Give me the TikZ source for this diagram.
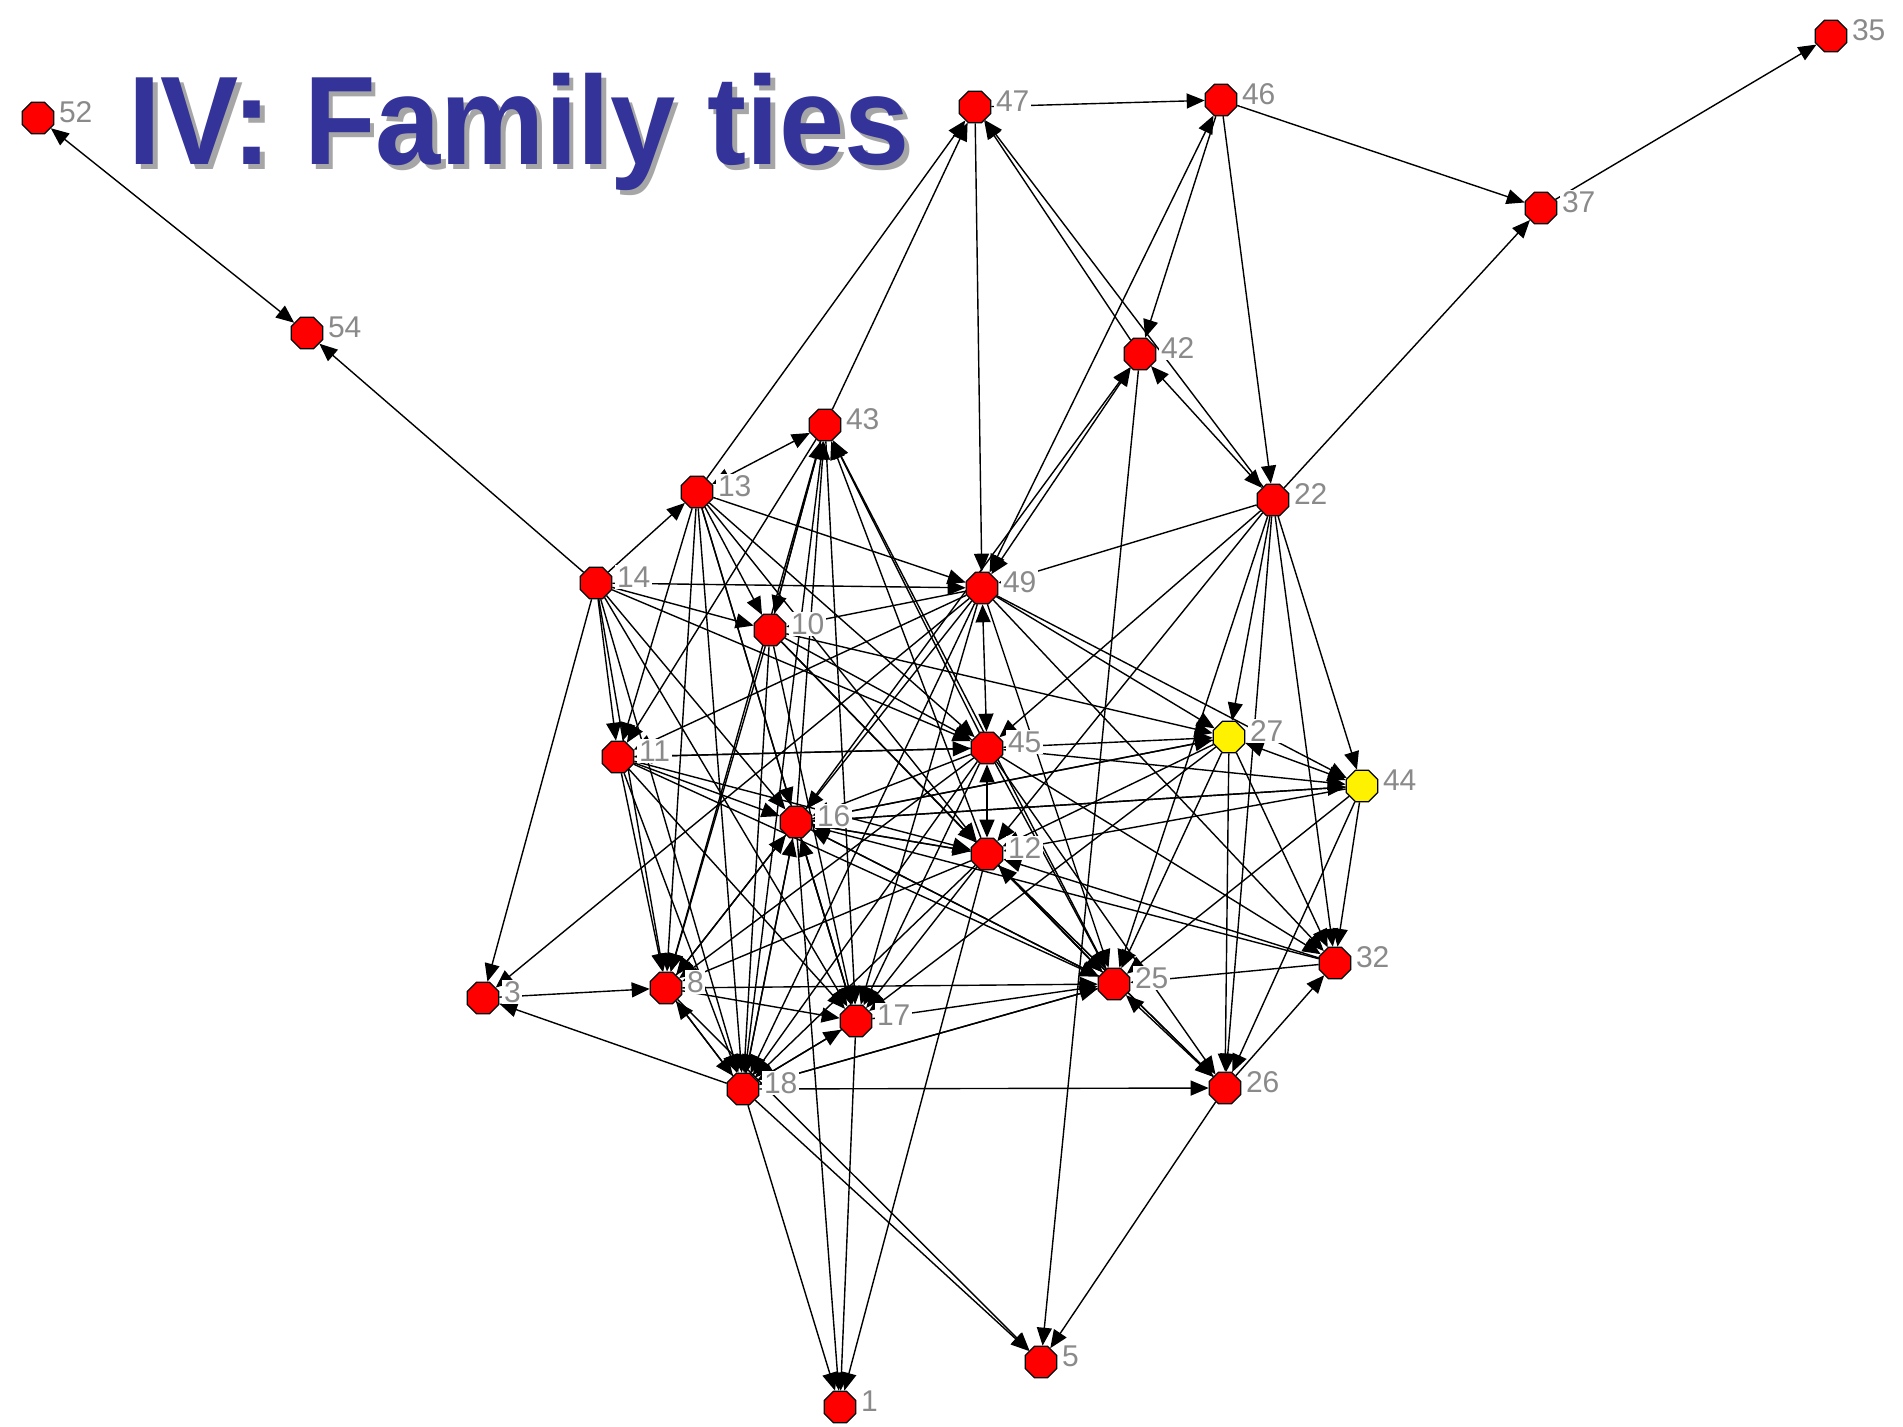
\documentclass[tikz,border=0pt]{standalone}
\usepackage{fontspec}
\setmainfont{Liberation Sans}
\usetikzlibrary{shapes.geometric,arrows.meta}
\definecolor{titleblue}{RGB}{51,51,153}
\definecolor{labelgray}{RGB}{138,138,138}
\pgfdeclarelayer{canvas}
\pgfdeclarelayer{ties}
\pgfsetlayers{canvas,ties,main}

% one actor: octagon plus its number label
\newcommand\actor[4]{%
  \node[#4] (n#1) at (#2,#3) {};
  \node[lab] (l#1) at ({#2+19},{#3-6}) {#1};
}
% heading text with a soft drop shadow set in the same box
\newcommand\shadowed[1]{%
  \makebox[0pt][l]{\hspace{2.5pt}\raisebox{-2.5pt}{\color{black!35}#1}}%
  {\color{titleblue}#1}}

\begin{document}
\begin{tikzpicture}[x=0.5pt,y=-0.5pt,
  actorbox/.style={regular polygon, regular polygon sides=8, minimum size=17pt,
    inner sep=0pt, draw=black, line width=0.6pt, fill=red},
  kinbox/.style={actorbox, fill=yellow},
  lab/.style={font=\fontsize{15pt}{15pt}\selectfont, text=labelgray, fill=white,
    inner sep=0.8pt, anchor=west},
  tie/.style={draw=black, line width=0.7pt, -{Triangle[length=9pt,width=7.5pt]}},
  mutual/.style={draw=black, line width=0.7pt,
    {Triangle[length=9pt,width=7.5pt]}-{Triangle[length=9pt,width=7.5pt]}},
  titletext/.style={anchor=base west, inner sep=0pt,
    font=\fontsize{63pt}{63pt}\selectfont\bfseries}
]
\begin{pgfonlayer}{canvas}
  \fill[white] (0,0) rectangle (1903,1427);
\end{pgfonlayer}
\useasboundingbox (0,0) rectangle (1903,1427);

% title
\node[titletext] (title) at (128,165) {\scalebox{0.93}[1]{\shadowed{IV: Family ties}}};

% actors
\actor{52}{38}{118}{actorbox}
\actor{54}{307}{333}{actorbox}
\actor{47}{975}{107}{actorbox}
\actor{46}{1221}{100}{actorbox}
\actor{35}{1831}{36}{actorbox}
\actor{37}{1541}{208}{actorbox}
\actor{42}{1140}{354}{actorbox}
\actor{43}{825}{425}{actorbox}
\actor{13}{697}{492}{actorbox}
\actor{22}{1273}{500}{actorbox}
\actor{14}{596}{583}{actorbox}
\actor{49}{982}{588}{actorbox}
\actor{10}{770}{630}{actorbox}
\actor{45}{987}{748}{actorbox}
\actor{27}{1229}{737}{kinbox}
\actor{44}{1362}{786}{kinbox}
\actor{11}{618}{757}{actorbox}
\actor{16}{796}{822}{actorbox}
\actor{12}{987}{854}{actorbox}
\actor{32}{1335}{963}{actorbox}
\actor{25}{1114}{984}{actorbox}
\actor{3}{483}{998}{actorbox}
\actor{8}{666}{988}{actorbox}
\actor{17}{856}{1021}{actorbox}
\actor{26}{1225}{1088}{actorbox}
\actor{18}{743}{1089}{actorbox}
\actor{5}{1041}{1362}{actorbox}
\actor{1}{840}{1407}{actorbox}

% directed ties
\begin{pgfonlayer}{ties}
\foreach \a/\b in {14/54, 47/46, 46/37, 37/35, 22/37, 46/42, 46/22, 13/47, 43/47,
  42/47, 22/47, 47/49, 16/42, 42/5, 22/49, 22/27, 22/44, 22/32, 22/26, 22/25,
  22/45, 22/12,
  14/13, 14/49, 14/10, 14/3, 14/11, 14/8, 14/18, 14/17, 14/16, 14/45,
  13/10, 13/11, 13/8, 13/16, 13/18, 13/17, 13/45, 13/49, 13/12,
  43/10, 43/17, 43/8, 43/11,
  10/43, 16/43, 18/43, 45/43, 25/43, 12/43,
  49/27, 49/44, 49/32, 49/25, 49/3, 49/10, 49/16, 49/17, 49/18, 49/11,
  10/27, 10/45, 10/12, 10/25, 10/17, 10/18, 10/8,
  11/45, 11/12, 11/16, 11/25, 11/17, 11/18,
  16/12, 16/8, 16/18, 16/17, 16/25, 16/1, 16/27, 16/44,
  45/27, 45/44, 45/26, 45/25, 45/32, 45/16, 45/17, 45/18, 45/8, 45/11,
  12/25, 12/26, 12/17, 12/18, 12/8, 12/1, 12/16,
  27/26, 27/25, 27/12, 27/17, 27/32, 27/16,
  44/12, 44/25, 44/26, 44/32, 44/16,
  32/12, 32/25, 32/16,
  26/32, 18/26, 17/25, 18/25, 8/17, 8/25, 18/17, 18/3, 3/8, 18/1, 17/1,
  18/5, 8/5, 26/5, 25/18, 17/18, 8/18, 18/8, 11/8, 17/16, 18/16, 8/16,
  25/12, 26/12, 25/16}
  \draw[tie] (n\a) -- (n\b);
% reciprocated ties
\foreach \a/\b in {52/54, 42/22, 49/46, 42/49, 26/25, 13/43, 49/45, 27/44, 45/12}
  \draw[mutual] (n\a) -- (n\b);
\end{pgfonlayer}
\end{tikzpicture}
\end{document}
